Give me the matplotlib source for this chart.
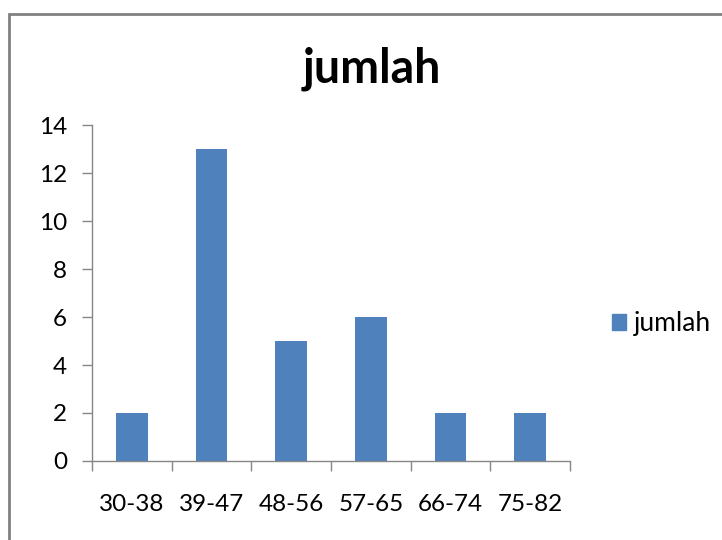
import matplotlib.pyplot as plt
import matplotlib.patches as mpatches

# class intervals and their counts
categories = ['30-38', '39-47', '48-56', '57-65', '66-74', '75-82']
jumlah = [2, 13, 5, 6, 2, 2]
y_ticks = [0, 2, 4, 6, 8, 10, 12, 14]

bar_color = '#4F81BD'
axis_color = '#868686'

plt.rcParams['font.family'] = ['Lato', 'DejaVu Sans']

fig = plt.figure(figsize=(7.22, 5.40), dpi=100)
ax = fig.add_axes([0.1274, 0.1463, 0.662, 0.6222])

x = range(len(categories))
ax.bar(x, jumlah, width=0.4, color=bar_color, label='jumlah')

ax.set_xlim(-0.5, len(categories) - 0.5)
ax.set_ylim(0, 14)
ax.set_yticks(y_ticks)
ax.set_xticks([i - 0.5 for i in range(len(categories) + 1)], minor=False)
ax.set_xticklabels([''] * (len(categories) + 1))
ax.set_xticks(list(x), minor=True)
ax.set_xticklabels(categories, minor=True)

for side in ['top', 'right']:
    ax.spines[side].set_visible(False)
for side in ['left', 'bottom']:
    ax.spines[side].set_color(axis_color)
    ax.spines[side].set_linewidth(1.0)

ax.tick_params(axis='y', direction='out', length=7, width=1, color=axis_color,
               labelsize=17.5, pad=11, labelcolor='black')
ax.tick_params(axis='x', which='major', direction='out', length=7, width=1,
               color=axis_color)
ax.tick_params(axis='x', which='minor', length=0, labelsize=17.5, pad=24,
               labelcolor='black')

fig.text(0.515, 0.873, 'jumlah', ha='center', va='center',
         fontsize=33.5, fontweight='bold')

handle = mpatches.Patch(color=bar_color, label='jumlah')
fig.legend(handles=[handle], loc='center left', bbox_to_anchor=(0.847, 0.401),
           frameon=False, fontsize=19, handlelength=0.55, handleheight=0.55,
           handletextpad=0.3, borderpad=0, borderaxespad=0)

# outer chart border, running off the right and bottom edges
border = mpatches.Rectangle((9 / 722, -0.1), 1.2, 1.1 - 14 / 540,
                            transform=fig.transFigure, fill=False,
                            edgecolor='#808080', linewidth=2, clip_on=False)
fig.patches.append(border)

fig.savefig('out.png', dpi=100)
